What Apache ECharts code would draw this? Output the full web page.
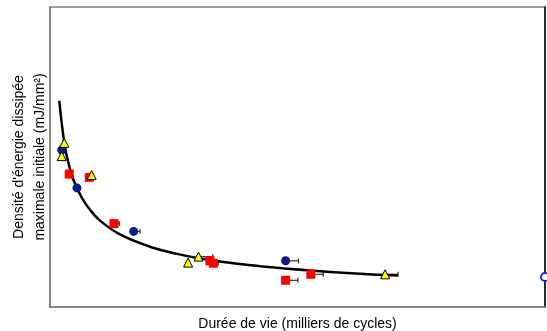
<!DOCTYPE html>
<html>
<head>
<meta charset="utf-8">
<script src="https://cdn.jsdelivr.net/npm/echarts@6/dist/echarts.min.js"></script>
<style>
  html,body{margin:0;padding:0;background:#fff;}
  #chartDiv{width:547px;height:331px;}
</style>
</head>
<body>
<div id="chartDiv"></div>
<script>
// valeurs (unités arbitraires, axes sans graduations)
var cercles = [[2.36, 52.3], [5.45, 39.7], [16.9, 25.2], [47.6, 15.4]];
var carres = [[3.90, 44.3], [7.94, 43.2], [12.93, 27.8], [32.3, 15.4], [33.0, 14.6], [47.6, 8.9], [52.7, 10.9]];
var triangles = [[2.89, 54.7], [2.36, 50.3], [8.42, 44.0], [27.9, 14.8], [30.0, 16.8], [67.7, 10.9]];
var cercleVide = [[100, 10]];
// barres d'erreur : [x debut, x fin, y]
var barresErreur = [[16.9, 18.2, 25.2], [47.6, 50.2, 15.4], [12.93, 14.0, 27.8], [33.0, 34.0, 14.6],
  [47.6, 50.1, 8.9], [52.7, 55.2, 10.9], [30.0, 32.9, 16.8], [67.7, 70.3, 10.9]];
// courbe de tendance
var courbe = [[1.88, 68.7], [2.57, 58.6], [3.37, 50.4], [4.71, 42.5], [6.40, 36.5], [8.08, 32.4],
  [10.10, 28.8], [14.14, 24.2], [20.20, 20.1], [25.66, 17.7], [30.30, 16.2], [38.38, 14.3],
  [42.42, 13.6], [52.53, 12.2], [62.63, 11.1], [70.30, 10.5]];

var police = 'Liberation Sans, Arial, sans-serif';

function errBar(params, api){
  var p0 = api.coord([api.value(0), api.value(2)]);
  var p1 = api.coord([api.value(1), api.value(2)]);
  return {
    type: 'group',
    children: [
      {type: 'line', shape: {x1: p0[0], y1: p0[1], x2: p1[0], y2: p1[1]}, style: {stroke: '#333', lineWidth: 1.2}},
      {type: 'line', shape: {x1: p1[0], y1: p1[1] - 2.5, x2: p1[0], y2: p1[1] + 2.5}, style: {stroke: '#333', lineWidth: 1.2}}
    ]
  };
}

var option = {
  animation: false,
  grid: {left: 50, right: 2, top: 7, bottom: 24, outerBoundsMode: 'none', containLabel: false,
    show: true, borderColor: '#808080', borderWidth: 1.5},
  xAxis: {
    type: 'value', min: 0, max: 100,
    name: 'Durée de vie (milliers de cycles)', nameLocation: 'middle', nameGap: 10,
    nameTextStyle: {fontFamily: police, fontSize: 14, color: '#000'},
    axisLine: {show: true, lineStyle: {color: '#808080', width: 1.5}},
    axisTick: {show: false}, axisLabel: {show: false}, splitLine: {show: false}
  },
  yAxis: [{
    type: 'value', min: 0, max: 100,
    name: "Densité d'énergie dissipée\nmaximale initiale (mJ/mm²)", nameLocation: 'middle', nameGap: -1,
    nameTextStyle: {fontFamily: police, fontSize: 14, color: '#000', lineHeight: 21},
    axisLine: {show: true, lineStyle: {color: '#808080', width: 1.5}},
    axisTick: {show: false}, axisLabel: {show: false}, splitLine: {show: false}
  }, {
    type: 'value', min: 0, max: 100, position: 'right',
    axisLine: {show: true, lineStyle: {color: '#000', width: 1.5}},
    axisTick: {show: false}, axisLabel: {show: false}, splitLine: {show: false}
  }],
  series: [
    {type: 'custom', renderItem: errBar, data: barresErreur, z: 1},
    {type: 'line', data: courbe, smooth: 0.4, showSymbol: false, lineStyle: {color: '#000', width: 2.5}, z: 2},
    {type: 'scatter', data: cercles, symbol: 'circle', symbolSize: 9, itemStyle: {color: '#0d1a8a', opacity: 1}, z: 3},
    {type: 'scatter', data: carres, symbol: 'rect', symbolSize: 9, itemStyle: {color: '#ff0000', opacity: 1}, z: 3},
    {type: 'scatter', data: triangles, symbol: 'triangle', symbolSize: 9, itemStyle: {color: '#ffff00', borderColor: '#000', borderWidth: 1, opacity: 1}, z: 4},
    {type: 'scatter', data: cercleVide, symbol: 'emptyCircle', symbolSize: 8, clip: false, itemStyle: {color: '#1a2ad0', borderColor: '#1a2ad0', borderWidth: 1.2, opacity: 1}, z: 5}
  ]
};
var myChart = echarts.init(document.getElementById('chartDiv'));
myChart.setOption(option, true);
</script>
</body>
</html>
